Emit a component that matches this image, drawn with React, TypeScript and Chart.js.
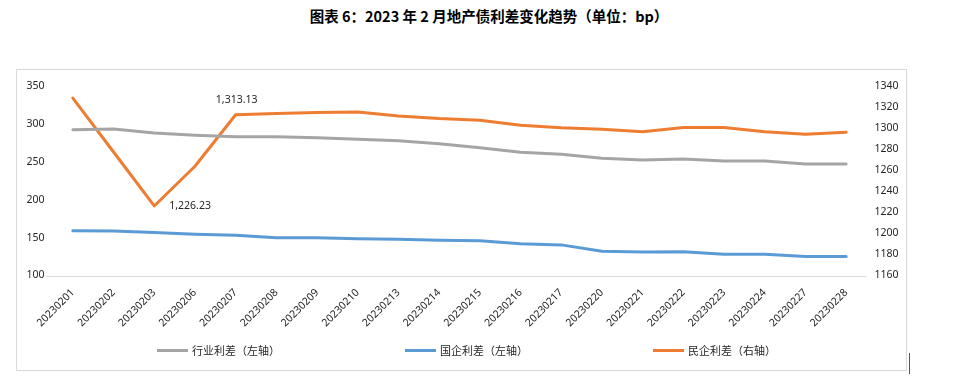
import React, { useEffect, useRef } from "react";
import { Chart, registerables } from "chart.js";

Chart.register(...registerables);

const categories = [
  "20230201", "20230202", "20230203", "20230206", "20230207", "20230208", "20230209",
  "20230210", "20230213", "20230214", "20230215", "20230216", "20230217", "20230220",
  "20230221", "20230222", "20230223", "20230224", "20230227", "20230228",
];
const industrySpread = [
  292.9, 293.8, 288.5, 285.5, 283.6, 283.6, 282.3, 280.2, 278.3, 274.3,
  269.1, 263.0, 260.3, 255.0, 252.8, 254.0, 251.5, 251.5, 247.5, 247.5,
];
const soeSpread = [
  159.3, 159.0, 156.8, 154.5, 153.2, 150.0, 150.0, 148.6, 147.9, 146.6,
  146.0, 142.0, 140.5, 132.0, 131.0, 131.5, 128.0, 128.0, 125.0, 125.0,
];
const privateSpread = [
  1329.0, 1277.6, 1226.23, 1264.0, 1313.13, 1314.2, 1315.2, 1315.7, 1312.0, 1309.5,
  1307.9, 1303.1, 1300.6, 1299.3, 1297.0, 1301.0, 1301.0, 1297.0, 1294.6, 1296.5,
];
const seriesNames = ["行业利差（左轴）", "国企利差（左轴）", "民企利差（右轴）"];
const seriesColors = ["#A5A5A5", "#5B9BD5", "#ED7D31"];
const leftTicks = [100, 350, 50];
const rightTicks = [1160, 1340, 20];
const labelledPoints = [2, 4];
const titleText = "图表 6：2023 年 2 月地产债利差变化趋势（单位：bp）";

const tickFont = { family: "'Noto Sans', sans-serif", size: 10.5 };
const tickColor = "#262626";

const extrasPlugin = {
  id: "extras",
  afterDatasetsDraw(chart: any) {
    const ctx = chart.ctx;
    const area = chart.chartArea;
    ctx.save();
    ctx.strokeStyle = "#d9d9d9";
    ctx.lineWidth = 1;
    ctx.beginPath();
    ctx.moveTo(area.left - 6, Math.round(area.bottom) + 0.5);
    ctx.lineTo(area.right, Math.round(area.bottom) + 0.5);
    ctx.stroke();
    const meta = chart.getDatasetMeta(2);
    ctx.fillStyle = "#262626";
    ctx.font = "10.5px 'Noto Sans', sans-serif";
    ctx.textBaseline = "middle";
    labelledPoints.forEach((i) => {
      const pt = meta.data[i];
      const v = privateSpread[i];
      const txt = v.toLocaleString("en-US", { minimumFractionDigits: 2, maximumFractionDigits: 2 });
      if (i === 2) {
        ctx.textAlign = "left";
        ctx.fillText(txt, pt.x + 15, pt.y);
      } else {
        ctx.textAlign = "center";
        ctx.fillText(txt, pt.x + 1, pt.y - 15);
      }
    });
    ctx.restore();
  },
};

export default function App() {
  const canvasRef = useRef<HTMLCanvasElement | null>(null);

  useEffect(() => {
    if (!canvasRef.current) return;
    const chart = new Chart(canvasRef.current, {
      type: "line",
      data: {
        labels: categories,
        datasets: [
          {
            label: seriesNames[0],
            data: industrySpread,
            borderColor: seriesColors[0],
            backgroundColor: seriesColors[0],
            yAxisID: "y",
          },
          {
            label: seriesNames[1],
            data: soeSpread,
            borderColor: seriesColors[1],
            backgroundColor: seriesColors[1],
            yAxisID: "y",
          },
          {
            label: seriesNames[2],
            data: privateSpread,
            borderColor: seriesColors[2],
            backgroundColor: seriesColors[2],
            yAxisID: "y1",
          },
        ],
      },
      options: {
        responsive: false,
        animation: false,
        layout: { padding: { top: 17.5, left: 0, right: 0, bottom: 0 } },
        elements: {
          line: { borderWidth: 3, tension: 0, borderCapStyle: "round", borderJoinStyle: "round" },
          point: { radius: 0, hoverRadius: 0 },
        },
        plugins: {
          legend: { display: false },
          title: { display: false },
          tooltip: { enabled: false },
        },
        scales: {
          x: {
            offset: true,
            grid: { display: false, drawTicks: false },
            border: { display: false },
            ticks: {
              font: tickFont,
              color: tickColor,
              minRotation: 45,
              maxRotation: 45,
              autoSkip: false,
              padding: 11,
            },
            afterFit(scale: any) {
              scale.height = 95.5;
            },
          },
          y: {
            position: "left",
            min: leftTicks[0],
            max: leftTicks[1],
            ticks: {
              stepSize: leftTicks[2],
              font: tickFont,
              color: tickColor,
              padding: 8,
              callback: (v: any) => String(v),
            },
            grid: { display: false, drawTicks: false },
            border: { display: false },
            afterFit(scale: any) {
              scale.width = 36.5;
            },
          },
          y1: {
            position: "right",
            min: rightTicks[0],
            max: rightTicks[1],
            ticks: {
              stepSize: rightTicks[2],
              font: tickFont,
              color: tickColor,
              padding: 8,
              callback: (v: any) => String(v),
            },
            grid: { display: false, drawTicks: false },
            border: { display: false },
            afterFit(scale: any) {
              scale.width = 40.5;
            },
          },
        },
      },
      plugins: [extrasPlugin],
    } as any);
    return () => chart.destroy();
  }, []);

  const legendItems = [
    { line: 149, text: 184 },
    { line: 397, text: 432 },
    { line: 645, text: 680 },
  ];

  return (
    <div style={{ position: "relative", width: 938, height: 372, overflow: "hidden" }}>
      <div
        style={{
          position: "absolute",
          left: 481,
          top: -2,
          transform: "translateX(-50%)",
          whiteSpace: "nowrap",
          fontFamily: "'Noto Sans CJK SC', 'Noto Sans', sans-serif",
          fontWeight: 700,
          fontSize: 14.5,
          lineHeight: "20px",
          color: "#000",
        }}
      >
        {titleText}
      </div>
      <div
        style={{
          position: "absolute",
          left: 8,
          top: 61,
          width: 891,
          height: 302,
          boxSizing: "border-box",
          border: "1px solid #d9d9d9",
        }}
      />
      <canvas
        ref={canvasRef}
        width={891}
        height={302}
        style={{ position: "absolute", left: 8, top: 61, width: 891, height: 302 }}
      />
      {legendItems.map((it, i) => (
        <React.Fragment key={i}>
          <div
            style={{
              position: "absolute",
              left: it.line,
              top: 340.5,
              width: 31,
              height: 3,
              background: seriesColors[i],
            }}
          />
          <div
            style={{
              position: "absolute",
              left: it.text,
              top: 334,
              whiteSpace: "nowrap",
              fontFamily: "'Noto Sans CJK SC', 'Noto Sans', sans-serif",
              fontSize: 11,
              lineHeight: "16px",
              color: "#262626",
            }}
          >
            {seriesNames[i]}
          </div>
        </React.Fragment>
      ))}
      <div
        style={{ position: "absolute", left: 901, top: 345, width: 1, height: 21, background: "#555" }}
      />
    </div>
  );
}
